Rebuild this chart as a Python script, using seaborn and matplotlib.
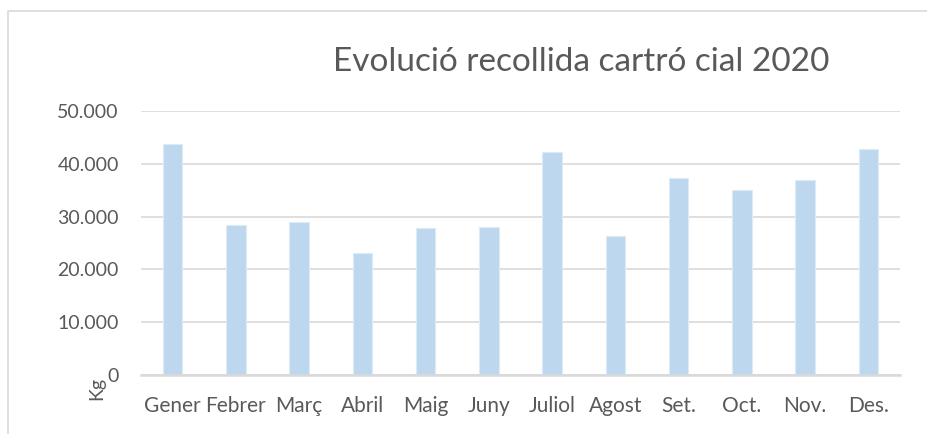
import pandas as pd
import seaborn as sns
import matplotlib.pyplot as plt
from matplotlib.ticker import FuncFormatter
from matplotlib.patches import Rectangle

# monthly cardboard collection (kg)
months = ['Gener', 'Febrer', 'Març', 'Abril', 'Maig', 'Juny',
          'Juliol', 'Agost', 'Set.', 'Oct.', 'Nov.', 'Des.']
kg = [43700, 28400, 29050, 23200, 27800, 28000,
      42200, 26300, 37300, 35000, 36900, 42800]
yticks = [0, 10000, 20000, 30000, 40000, 50000]

df = pd.DataFrame({'Mes': months, 'Kg': kg})

sns.set_style('white')
plt.rcParams['font.family'] = ['Lato', 'DejaVu Sans']
text_col = '#595959'
grid_col = '#D9D9D9'

fig = plt.figure(figsize=(9.28, 4.34), dpi=100)
ax = fig.add_axes([141/928, 1 - 375/434, 759/928, 264/434])

sns.barplot(data=df, x='Mes', y='Kg', color='#BDD7EE', saturation=1,
            width=0.31, edgecolor='#DDEBF7', linewidth=0.8, ax=ax)

ax.set_ylim(0, 50000)
ax.set_xlim(-0.5, len(months) - 0.5)
ax.set_yticks(yticks)
ax.yaxis.set_major_formatter(FuncFormatter(lambda v, p: f'{int(v):,}'.replace(',', '.')))
ax.grid(axis='y', color=grid_col, linewidth=1.2)
ax.set_axisbelow(True)
for s in ['top', 'right', 'left']:
    ax.spines[s].set_visible(False)
ax.spines['bottom'].set_color(grid_col)
ax.spines['bottom'].set_linewidth(1.8)
ax.tick_params(axis='y', length=0, pad=16, labelsize=14, labelcolor=text_col)
ax.tick_params(axis='x', length=0, pad=15, labelsize=15, labelcolor=text_col)
ax.set_xlabel('')
ax.set_ylabel('')

ax.text(-0.058, -0.05, 'Kg', transform=ax.transAxes, rotation=90,
        ha='center', va='center', fontsize=14, color=text_col)

fig.text(581/928, 1 - 62/434, 'Evolució recollida cartró cial 2020',
         ha='center', va='center', fontsize=24, color=text_col)

# chart frame (runs off the right and bottom edges)
fig.patches.append(Rectangle((8/928, -0.05), 1.1, 1.05 - 11/434, transform=fig.transFigure,
                             fill=False, edgecolor=grid_col, linewidth=1.2))

fig.savefig('out.png', dpi=100)
